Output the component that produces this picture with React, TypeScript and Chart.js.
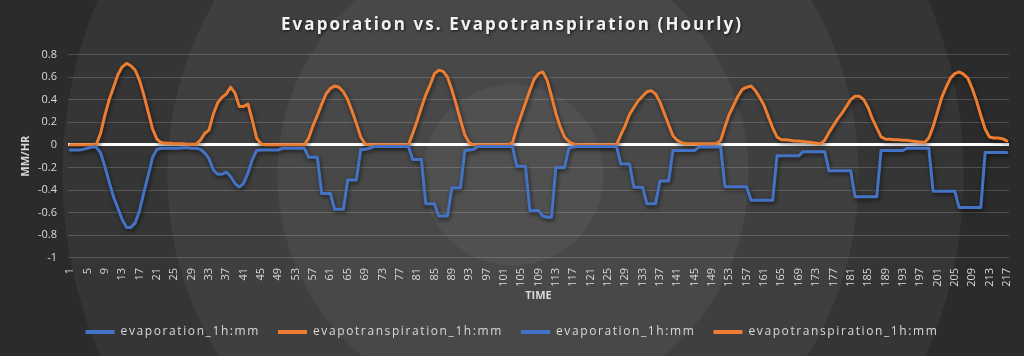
import React, { useEffect, useRef } from 'react';
import { Chart, registerables } from 'chart.js';

Chart.register(...registerables);

const hours: string[] = Array.from({ length: 217 }, (_, i) => String(i + 1));

const evaporation: number[] = [
  // 1-7
  -0.045, -0.045, -0.045, -0.04, -0.03, -0.02, -0.02,
  // 8-22
  -0.07, -0.19, -0.33, -0.46, -0.56, -0.66, -0.73, -0.73, -0.69, -0.58, -0.42, -0.27, -0.11, -0.04, -0.03,
  // 23-30
  -0.03, -0.03, -0.03, -0.03, -0.025, -0.025, -0.03, -0.03,
  // 31-46
  -0.04, -0.07, -0.12, -0.22, -0.26, -0.26, -0.24, -0.28, -0.34, -0.375, -0.34, -0.25, -0.13, -0.05, -0.045, -0.045,
  // 47-55
  -0.045, -0.045, -0.045, -0.03, -0.03, -0.03, -0.03, -0.03, -0.03,
  // 56-69
  -0.11, -0.11, -0.11, -0.43, -0.43, -0.43, -0.57, -0.57, -0.57, -0.31, -0.31, -0.31, -0.04, -0.04,
  // 70-79
  -0.03, -0.015, -0.015, -0.015, -0.015, -0.015, -0.015, -0.015, -0.015, -0.015,
  // 80-93
  -0.13, -0.13, -0.13, -0.52, -0.52, -0.52, -0.63, -0.63, -0.63, -0.38, -0.38, -0.38, -0.05, -0.045,
  // 94-102
  -0.04, -0.015, -0.015, -0.015, -0.015, -0.015, -0.015, -0.015, -0.015,
  // 103-117
  -0.015, -0.19, -0.19, -0.19, -0.58, -0.58, -0.58, -0.63, -0.64, -0.64, -0.2, -0.2, -0.2, -0.03, -0.02,
  // 118-127
  -0.015, -0.015, -0.015, -0.015, -0.015, -0.015, -0.015, -0.015, -0.015, -0.015,
  // 128-142
  -0.17, -0.17, -0.17, -0.375, -0.375, -0.375, -0.52, -0.52, -0.52, -0.32, -0.32, -0.32, -0.05, -0.05, -0.05,
  // 143-150
  -0.05, -0.05, -0.05, -0.02, -0.02, -0.02, -0.02, -0.02,
  // 151-174
  -0.02, -0.37, -0.37, -0.37, -0.37, -0.37, -0.37, -0.49, -0.49, -0.49, -0.49, -0.49, -0.49,
  -0.097, -0.097, -0.097, -0.097, -0.097, -0.097, -0.06, -0.06, -0.06, -0.06, -0.06,
  // 175-199
  -0.06, -0.23, -0.23, -0.23, -0.23, -0.23, -0.23, -0.46, -0.46, -0.46, -0.46, -0.46, -0.46,
  -0.05, -0.05, -0.05, -0.05, -0.05, -0.05, -0.03, -0.03, -0.03, -0.03, -0.03, -0.03,
  // 200-217
  -0.41, -0.41, -0.41, -0.41, -0.41, -0.41, -0.555, -0.555, -0.555, -0.555, -0.555, -0.555,
  -0.067, -0.067, -0.067, -0.067, -0.067, -0.067,
];

const evapotranspiration: number[] = [
  // 1-7
  0, 0, 0, 0, 0, 0, 0,
  // 8-22
  0.1, 0.26, 0.4, 0.51, 0.62, 0.69, 0.72, 0.7, 0.66, 0.57, 0.44, 0.29, 0.14, 0.05, 0.02,
  // 23-30
  0.015, 0.015, 0.01, 0.01, 0.01, 0.005, 0.005, 0.005,
  // 31-46
  0.04, 0.1, 0.13, 0.27, 0.37, 0.42, 0.45, 0.51, 0.46, 0.34, 0.34, 0.36, 0.22, 0.06, 0.01, 0,
  // 47-55
  0, 0, 0, 0, 0, 0, 0, 0, 0,
  // 56-69
  0.06, 0.17, 0.26, 0.36, 0.45, 0.5, 0.52, 0.51, 0.47, 0.4, 0.3, 0.19, 0.07, 0.01,
  // 70-79
  0, 0, 0, 0, 0, 0, 0, 0, 0, 0,
  // 80-93
  0.1, 0.21, 0.33, 0.44, 0.53, 0.63, 0.66, 0.65, 0.6, 0.49, 0.36, 0.22, 0.09, 0.02,
  // 94-102
  0, 0, 0, 0, 0, 0, 0, 0, 0,
  // 103-117
  0.02, 0.15, 0.26, 0.37, 0.48, 0.58, 0.63, 0.645, 0.57, 0.43, 0.28, 0.16, 0.07, 0.03, 0.01,
  // 118-127
  0, 0, 0, 0, 0, 0, 0, 0, 0, 0,
  // 128-142
  0.09, 0.17, 0.27, 0.33, 0.39, 0.43, 0.47, 0.48, 0.45, 0.38, 0.28, 0.18, 0.08, 0.04, 0.02,
  // 143-150
  0.01, 0.01, 0.01, 0.01, 0.01, 0.01, 0.01, 0.01,
  // 151-174
  0.04, 0.16, 0.27, 0.35, 0.43, 0.49, 0.51, 0.52, 0.48, 0.42, 0.35, 0.25, 0.15, 0.07,
  0.045, 0.045, 0.04, 0.035, 0.035, 0.03, 0.025, 0.02, 0.015, 0.01,
  // 175-199
  0.04, 0.11, 0.17, 0.23, 0.28, 0.34, 0.4, 0.43, 0.43, 0.4, 0.33, 0.23, 0.15, 0.07,
  0.05, 0.05, 0.045, 0.045, 0.04, 0.04, 0.035, 0.03, 0.025, 0.02, 0.06,
  // 200-217
  0.16, 0.29, 0.42, 0.51, 0.59, 0.63, 0.645, 0.625, 0.59, 0.5, 0.39, 0.26, 0.14, 0.07, 0.06, 0.06, 0.055, 0.035,
];

const seriesNames: string[] = ['evaporation_1h:mm', 'evapotranspiration_1h:mm'];
const seriesColors: string[] = ['#4472C4', '#ED7D31'];

const chartTitle = 'Evaporation vs. Evapotranspiration (Hourly)';
const xAxisTitle = 'TIME';
const yAxisTitle = 'MM/HR';
const yMin = -1;
const yMax = 0.8;
const yStep = 0.2;
const xLabelEvery = 4;

const FONT = "'Open Sans', 'DejaVu Sans', sans-serif";
const TEXT = '#d9d9d9';

function withSpacing(ctx: any, spacing: string, fn: () => void) {
  const prev = ctx.letterSpacing;
  ctx.letterSpacing = spacing;
  try {
    fn();
  } finally {
    ctx.letterSpacing = prev !== undefined ? prev : '0px';
  }
}

export default function App() {
  const ref = useRef<HTMLCanvasElement | null>(null);

  useEffect(() => {
    if (!ref.current) return;
    const shadow = {
      id: 'lineShadow',
      beforeDatasetDraw(chart: any) {
        const c = chart.ctx;
        c.save();
        c.shadowColor = 'rgba(0,0,0,0.6)';
        c.shadowBlur = 4;
        c.shadowOffsetX = 1;
        c.shadowOffsetY = 2;
      },
      afterDatasetDraw(chart: any) {
        chart.ctx.restore();
      },
    };

    const chart: any = new Chart(ref.current, {
      type: 'line',
      data: {
        labels: hours,
        datasets: [
          {
            label: seriesNames[0],
            data: evaporation,
            borderColor: seriesColors[0],
            backgroundColor: seriesColors[0],
            borderWidth: 3,
            pointRadius: 0,
            tension: 0,
            borderJoinStyle: 'round',
            borderCapStyle: 'round',
          },
          {
            label: seriesNames[1],
            data: evapotranspiration,
            borderColor: seriesColors[1],
            backgroundColor: seriesColors[1],
            borderWidth: 3,
            pointRadius: 0,
            tension: 0,
            borderJoinStyle: 'round',
            borderCapStyle: 'round',
          },
        ],
      },
      plugins: [shadow],
      options: {
        animation: false,
        responsive: false,
        maintainAspectRatio: false,
        layout: { padding: { left: 15, right: 15, top: 0, bottom: 8 } },
        plugins: {
          tooltip: { enabled: false },
          title: {
            display: true,
            text: chartTitle,
            color: '#f2f2f2',
            font: { family: FONT, size: 17, weight: 'bold' },
            padding: { top: 15, bottom: 19 },
          },
          legend: {
            position: 'bottom',
            labels: {
              color: TEXT,
              font: { family: FONT, size: 12 },
              boxWidth: 29,
              boxHeight: 4,
              padding: 18,
              generateLabels(c: any) {
                const base = (Chart as any).defaults.plugins.legend.labels
                  .generateLabels(c)
                  .map((b: any) => ({ ...b, lineWidth: 0 }));
                return [...base, ...base.map((b: any) => ({ ...b }))];
              },
            },
          },
        },
        scales: {
          x: {
            offset: true,
            grid: { display: false },
            border: { display: false },
            ticks: {
              color: TEXT,
              font: { family: FONT, size: 11 },
              autoSkip: false,
              minRotation: 90,
              maxRotation: 90,
              padding: 2,
              callback: (_v: any, i: number) => (i % xLabelEvery === 0 ? hours[i] : null),
            },
            title: {
              display: true,
              text: xAxisTitle,
              color: TEXT,
              font: { family: FONT, size: 11, weight: 'bold' },
              padding: { top: 0, bottom: 6 },
            },
          },
          y: {
            min: yMin,
            max: yMax,
            border: { display: false },
            grid: {
              drawTicks: false,
              color: (ctx: any) => (Math.abs(ctx.tick.value) < 1e-9 ? '#ffffff' : 'rgba(255,255,255,0.17)'),
              lineWidth: (ctx: any) => (Math.abs(ctx.tick.value) < 1e-9 ? 3 : 1),
            },
            ticks: {
              stepSize: yStep,
              color: TEXT,
              font: { family: FONT, size: 11 },
              padding: 11,
              callback: (v: any) => String(Math.round(Number(v) * 10) / 10),
            },
            title: {
              display: true,
              text: yAxisTitle,
              color: TEXT,
              font: { family: FONT, size: 11, weight: 'bold' },
              padding: { top: 4, bottom: 4 },
            },
            afterFit(s: any) {
              s.width = 53;
            },
          },
        },
      },
    } as any);

    // wider letter spacing for title and legend text, as in the reference
    const tb = chart.titleBlock;
    if (tb) {
      const origDraw = tb.draw.bind(tb);
      tb.draw = (...args: any[]) => {
        const c = chart.ctx;
        c.save();
        c.shadowColor = 'rgba(0,0,0,0.7)';
        c.shadowBlur = 3;
        c.shadowOffsetX = 1;
        c.shadowOffsetY = 1;
        withSpacing(c, '2.1px', () => origDraw(...args));
        c.restore();
      };
    }
    const lg = chart.legend;
    if (lg) {
      const origFit = lg.fit.bind(lg);
      const origLgDraw = lg.draw.bind(lg);
      lg.fit = (...args: any[]) => withSpacing(chart.ctx, '1.6px', () => origFit(...args));
      lg.draw = (...args: any[]) => withSpacing(chart.ctx, '1.6px', () => origLgDraw(...args));
    }
    chart.update();

    return () => chart.destroy();
  }, []);

  const bg =
    'radial-gradient(circle at 513px 175px, #505050 0px, #505050 90px, #484848 91px, #484848 235px, #3f3f3f 236px, #3f3f3f 345px, #353535 346px, #353535 450px, #2b2b2b 451px, #2b2b2b 560px, #212121 561px)';

  return (
    <div style={{ position: 'absolute', left: 0, top: 0, width: 1024, height: 356, background: bg, overflow: 'hidden' }}>
      <canvas ref={ref} width={1024} height={356} style={{ display: 'block', width: 1024, height: 356 }} />
    </div>
  );
}
